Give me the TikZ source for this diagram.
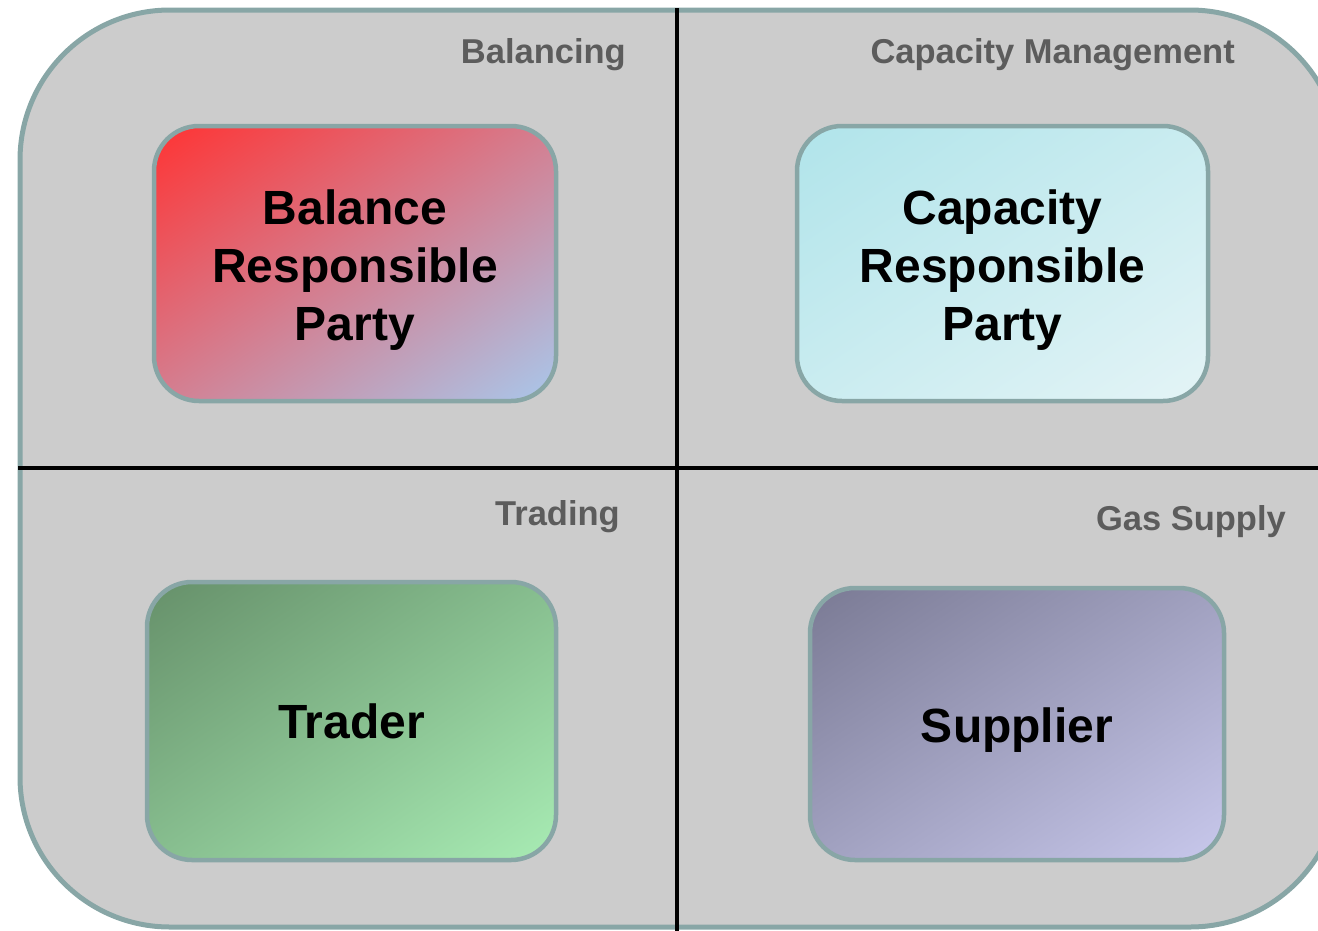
\documentclass[tikz,border=0pt]{standalone}
\usepackage{fontspec}
\setmainfont{Liberation Sans}
\usetikzlibrary{shapes,shadings}

\definecolor{panelgray}{HTML}{CCCCCC}
\definecolor{rimteal}{HTML}{88A6A6}
\definecolor{labelgray}{HTML}{5C5C5C}
\definecolor{brpA}{HTML}{FF3333}
\definecolor{brpB}{HTML}{D47E90}
\definecolor{brpC}{HTML}{A8C8EC}
\definecolor{crpA}{HTML}{B0E4EA}
\definecolor{crpB}{HTML}{CAECF0}
\definecolor{crpC}{HTML}{E4F4F6}
\definecolor{trdA}{HTML}{66906A}
\definecolor{trdB}{HTML}{87BE8F}
\definecolor{trdC}{HTML}{A8ECB4}
\definecolor{supA}{HTML}{7A7A94}
\definecolor{supB}{HTML}{A1A1C0}
\definecolor{supC}{HTML}{C8C8EC}

\begin{document}
\begin{tikzpicture}[x=1pt,y=-1pt]
\tikzstyle{role}=[rectangle,draw=rimteal,line width=4.5pt,rounded corners=45pt,align=center,text=black,font=\bfseries\fontsize{48}{58}\selectfont]
\tikzstyle{area}=[anchor=base east,text=labelgray,inner sep=0pt,font=\bfseries\fontsize{34.5}{40}\selectfont]
\tikzstyle{blend}=[upper left=#1A,upper right=#1B,lower left=#1B,lower right=#1C]
\useasboundingbox (0,0) rectangle (1318,930);
\clip (0,0) rectangle (1318,930);

\draw[rimteal,fill=panelgray,line width=5pt,rounded corners=150pt] (20,10) rectangle (1340,927);

\coordinate (vtop) at (677,8);
\coordinate (vbot) at (677,932);
\coordinate (hleft) at (18,468);
\coordinate (hright) at (1320,468);
\draw[line width=3.5pt] (vtop) -- (vbot);
\draw[line width=3.5pt] (hleft) -- (hright);

\node[area](bal) at (626,63) {Balancing};
\node[area](cap) at (1235,63) {Capacity Management};
\node[area](trd) at (620,525) {Trading};
\node[area](gas) at (1286,530) {Gas Supply};

\node[role,blend=brp,minimum width=402pt,minimum height=275pt](brp) at (355,263.5) {\rule{0pt}{48pt}Balance\\Responsible\\Party};
\node[role,blend=crp,minimum width=411pt,minimum height=275pt](crp) at (1002.5,263.5) {\rule{0pt}{48pt}Capacity\\Responsible\\Party};
\node[role,blend=trd,minimum width=409pt,minimum height=278pt](tra) at (351.5,721) {Trader};
\node[role,blend=sup,minimum width=414pt,minimum height=272pt](sup) at (1017,724) {\rule{0pt}{47pt}Supplier};
\end{tikzpicture}
\end{document}
